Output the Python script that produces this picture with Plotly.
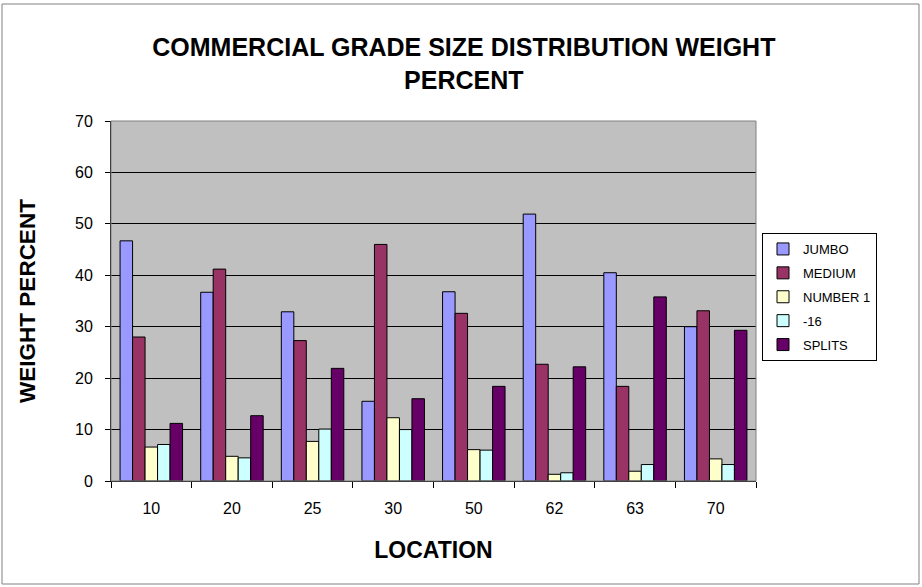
import plotly.graph_objects as go

locations = ["10", "20", "25", "30", "50", "62", "63", "70"]
jumbo = [46.7, 36.7, 32.9, 15.5, 36.8, 51.9, 40.5, 30.0]
medium = [28.0, 41.2, 27.3, 46.0, 32.6, 22.7, 18.4, 33.1]
number1 = [6.6, 4.8, 7.7, 12.3, 6.1, 1.3, 1.9, 4.3]
minus16 = [7.1, 4.5, 10.1, 10.0, 6.0, 1.6, 3.2, 3.2]
splits = [11.2, 12.7, 21.9, 16.0, 18.4, 22.2, 35.8, 29.3]

series = [
    ("JUMBO", jumbo, "#9999FF"),
    ("MEDIUM", medium, "#993366"),
    ("NUMBER 1", number1, "#FFFFCC"),
    ("-16", minus16, "#CCFFFF"),
    ("SPLITS", splits, "#660066"),
]

fig = go.Figure()
for name, vals, col in series:
    fig.add_trace(go.Bar(
        x=locations, y=vals, name=name, legendgroup=name,
        marker=dict(color=col, line=dict(color="black", width=1)),
    ))

W, H = 922, 587
L, R, T, B = 111, 166, 121, 106
pw, ph = W - L - R, H - T - B


def px_x(x):
    return (x - L) / pw


def px_y(y):
    return (H - B - y) / ph


FONT = "Arial, Liberation Sans, sans-serif"

fig.update_layout(
    width=W, height=H,
    margin=dict(l=L, r=R, t=T, b=B),
    paper_bgcolor="white",
    plot_bgcolor="#C0C0C0",
    barmode="group",
    bargap=0.225,
    bargroupgap=0,
    font=dict(family=FONT, color="black"),
    title=dict(
        text="<b>COMMERCIAL GRADE SIZE DISTRIBUTION WEIGHT<br>PERCENT</b>",
        x=px_x(435.5), xanchor="center", y=1 - 56 / H, yanchor="middle",
        font=dict(size=25, color="black"),
    ),
    xaxis=dict(
        type="category",
        showline=True, linecolor="black", linewidth=1,
        ticks="outside", tickson="boundaries", ticklen=6, tickcolor="black",
        tickfont=dict(size=16),
        ticklabelstandoff=13,
        title=dict(text="<b>LOCATION</b>", font=dict(size=23), standoff=25),
        showgrid=False,
        automargin=False,
    ),
    yaxis=dict(
        range=[0, 70], dtick=10,
        showline=True, linecolor="black", linewidth=1,
        ticks="outside", ticklen=5, tickcolor="black",
        tickfont=dict(size=16),
        ticklabelstandoff=9,
        gridcolor="black", gridwidth=1,
        zeroline=False,
        title=dict(text="<b>WEIGHT PERCENT</b>", font=dict(size=22.5), standoff=33),
        automargin=False,
    ),
    legend=dict(
        x=px_x(762), y=px_y(233), xanchor="left", yanchor="top",
        bgcolor="white", bordercolor="black", borderwidth=1,
        font=dict(size=13),
        traceorder="grouped",
        tracegroupgap=4,
        itemwidth=30,
    ),
    showlegend=True,
)

# plot area border
fig.add_shape(type="rect", xref="paper", yref="paper", x0=0, y0=0, x1=1, y1=1,
              line=dict(color="#808080", width=1), layer="above")
# outer chart border
fig.add_shape(type="rect", xref="paper", yref="paper",
              x0=px_x(2), y0=px_y(584), x1=px_x(919), y1=px_y(4),
              line=dict(color="#808080", width=1))

fig.write_html("out.html", config={"displayModeBar": False},
               post_script="document.body.style.margin='0';")
